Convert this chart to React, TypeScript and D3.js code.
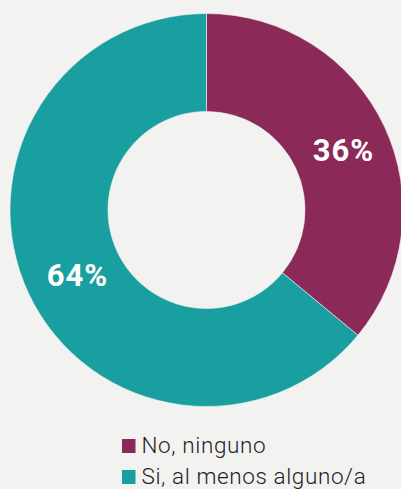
import { useEffect, useRef } from "react";
import * as d3 from "d3";

const categories = ["No, ninguno", "Si, al menos alguno/a"];
const values = [36, 64];
const colors = ["#8b2a58", "#1a9fa0"];

const width = 401;
const height = 489;

const App = () => {
  const ref = useRef<SVGSVGElement | null>(null);

  useEffect(() => {
    const svg = d3.select(ref.current);
    svg.selectAll("*").remove();

    const cx = 206.5;
    const cy = 210;
    const outerR = 196.5;
    const innerR = 98.5;

    svg
      .append("rect")
      .attr("width", width)
      .attr("height", height)
      .attr("fill", "#f2f2f1");

    const data = categories.map((name, i) => ({ name, value: values[i] }));
    const total = d3.sum(values);

    const pie = d3
      .pie<{ name: string; value: number }>()
      .value((d) => d.value)
      .sort(null);

    const arc = d3
      .arc<d3.PieArcDatum<{ name: string; value: number }>>()
      .innerRadius(innerR)
      .outerRadius(outerR);

    const labelArc = d3
      .arc<d3.PieArcDatum<{ name: string; value: number }>>()
      .innerRadius(147)
      .outerRadius(147);

    const g = svg.append("g").attr("transform", `translate(${cx},${cy})`);
    const arcs = pie(data);

    g.selectAll("path")
      .data(arcs)
      .enter()
      .append("path")
      .attr("d", arc)
      .attr("fill", (d, i) => colors[i])
      .attr("stroke", "#f2f2f1")
      .attr("stroke-width", 0.6);

    // labels sit a little right/down of the ring centre
    const lg = svg.append("g").attr("transform", `translate(${cx + 4},${cy + 2.5})`);
    lg.selectAll("text.lbl")
      .data(arcs)
      .enter()
      .append("text")
      .attr("class", "lbl")
      .attr("transform", (d) => {
        const [x, y] = labelArc.centroid(d);
        return `translate(${x},${y})`;
      })
      .attr("text-anchor", "middle")
      .attr("dy", "0.35em")
      .style("font-family", "Roboto")
      .style("font-weight", "bold")
      .style("font-size", "31px")
      .style("letter-spacing", "1px")
      .attr("fill", "#ffffff")
      .text((d) => Math.round((d.data.value / total) * 100) + "%");

    // legend
    const legend = svg
      .selectAll("g.leg")
      .data(data)
      .enter()
      .append("g")
      .attr("class", "leg")
      .attr("transform", (d, i) => `translate(122,${439 + i * 31})`);

    legend
      .append("rect")
      .attr("width", 13.5)
      .attr("height", 14)
      .attr("fill", (d, i) => colors[i]);

    legend
      .append("text")
      .attr("x", 19.5)
      .attr("y", 14)
      .style("font-family", "Roboto")
      .style("font-weight", 300)
      .style("font-size", "22.5px")
      .style("letter-spacing", "0.6px")
      .attr("fill", "#1e1e1e")
      .text((d) => d.name);
  }, []);

  return (
    <svg
      ref={ref}
      width={width}
      height={height}
      style={{ position: "absolute", left: 0, top: 0, display: "block" }}
    />
  );
};

export default App;
